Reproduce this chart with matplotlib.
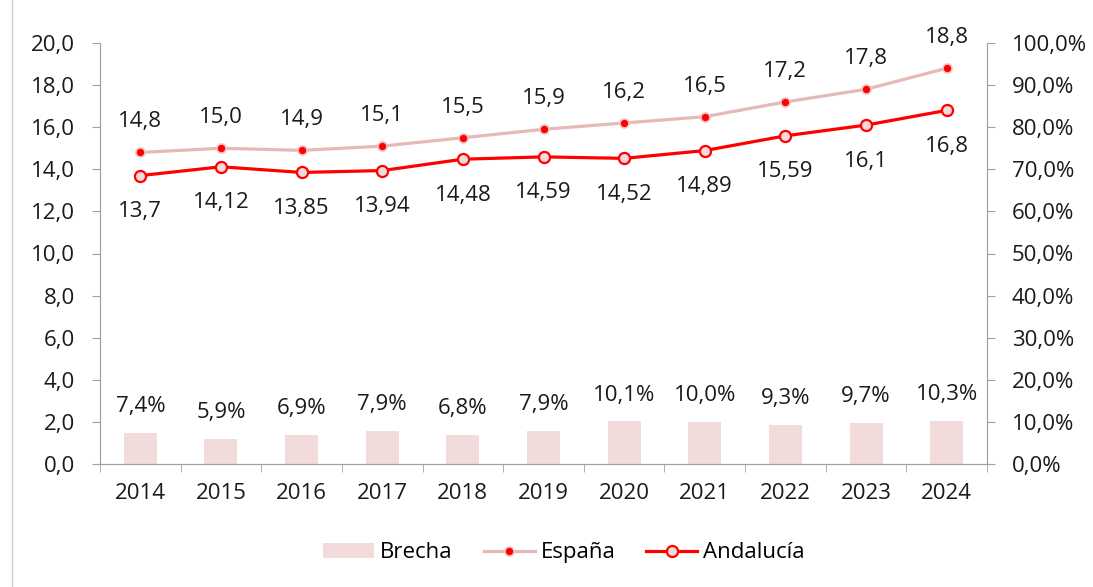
import matplotlib.pyplot as plt
from matplotlib.ticker import FuncFormatter
import numpy as np

plt.rcParams['font.family'] = ['Open Sans', 'DejaVu Sans']

years = ['2014', '2015', '2016', '2017', '2018', '2019', '2020', '2021', '2022', '2023', '2024']
espana = [14.8, 15.0, 14.9, 15.1, 15.5, 15.9, 16.2, 16.5, 17.2, 17.8, 18.8]
andalucia = [13.7, 14.12, 13.85, 13.94, 14.48, 14.59, 14.52, 14.89, 15.59, 16.1, 16.8]
andalucia_labels = ['13,7', '14,12', '13,85', '13,94', '14,48', '14,59', '14,52', '14,89', '15,59', '16,1', '16,8']
brecha = [7.4, 5.9, 6.9, 7.9, 6.8, 7.9, 10.1, 10.0, 9.3, 9.7, 10.3]

FS = 16
TXT = '#1a1a1a'
GRID = '#a0a0a0'

fig = plt.figure(figsize=(10.93, 5.87), dpi=100)
ax = fig.add_axes([100 / 1093, 1 - 464 / 587, 887 / 1093, 421 / 587])
ax2 = ax.twinx()
x = np.arange(len(years))

# bars on the right (percent) axis
ax2.bar(x, brecha, width=0.41, color='#f2dcdb', label='Brecha', zorder=1)
for xi, v in zip(x, brecha):
    ax2.annotate(f'{v:.1f}%'.replace('.', ','), (xi, v), xytext=(0, 19),
                 textcoords='offset points', ha='center', va='center', fontsize=FS, color=TXT)

ax.set_zorder(ax2.get_zorder() + 1)
ax.patch.set_visible(False)

ax.plot(x, espana, color='#e6b9b8', lw=2.3, marker='o', ms=6.5, mfc='#ff0000', mec='#f2c4c4', mew=1.2,
        label='España')
ax.plot(x, andalucia, color='#ff0000', lw=2.3, marker='o', ms=8, mfc='#f2dcdb', mec='#ff0000', mew=1.6,
        label='Andalucía')

for xi, v in zip(x, espana):
    ax.annotate(f'{v:.1f}'.replace('.', ','), (xi, v), xytext=(0, 22),
                textcoords='offset points', ha='center', va='center', fontsize=FS, color=TXT)
for xi, v, lab in zip(x, andalucia, andalucia_labels):
    ax.annotate(lab, (xi, v), xytext=(0, -26),
                textcoords='offset points', ha='center', va='center', fontsize=FS, color=TXT)

ax.set_xlim(-0.5, len(years) - 0.5)
ax.set_ylim(0, 20)
ax.set_yticks(np.arange(0, 20.1, 2))
ax.yaxis.set_major_formatter(FuncFormatter(lambda v, p: f'{v:.1f}'.replace('.', ',')))
ax2.set_ylim(0, 100)
ax2.set_yticks(np.arange(0, 100.1, 10))
ax2.yaxis.set_major_formatter(FuncFormatter(lambda v, p: f'{v:.1f}%'.replace('.', ',')))

ax.set_xticks(x)
ax.set_xticklabels(years)
ax.set_xticks(np.arange(-0.5, len(years)), minor=True)
ax.tick_params(axis='x', which='major', length=0, pad=14, labelsize=FS, labelcolor=TXT)
ax.tick_params(axis='x', which='minor', length=6, color=GRID)
ax.tick_params(axis='y', length=6, color=GRID, pad=12, labelsize=FS, labelcolor=TXT)
ax2.tick_params(axis='y', length=6, color=GRID, pad=12, labelsize=FS, labelcolor=TXT)

for a in (ax, ax2):
    a.spines['top'].set_visible(False)
    for s in ('left', 'right', 'bottom'):
        a.spines[s].set_color(GRID)

h1, l1 = ax2.get_legend_handles_labels()
h2, l2 = ax.get_legend_handles_labels()
fig.legend(h1 + h2, l1 + l2, loc='center', bbox_to_anchor=(0.516, 0.058), ncol=3, frameon=False,
           fontsize=FS, handlelength=2.3, columnspacing=1.4, handletextpad=0.25, handleheight=0.65)

fig.add_artist(plt.Line2D([12 / 1093, 12 / 1093], [0, 1], color='#d0d0d0', lw=1))

fig.savefig('out.png', dpi=100)
